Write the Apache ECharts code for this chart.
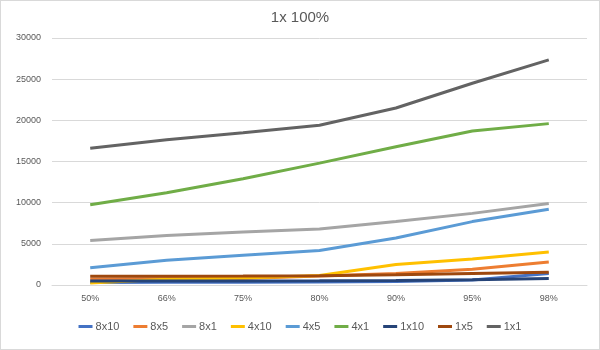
<!DOCTYPE html>
<html><head><meta charset="utf-8">
<script src="https://cdn.jsdelivr.net/npm/echarts@6/dist/echarts.min.js"></script>
<style>html,body{margin:0;padding:0;background:#fff}#c{width:598px;height:348px;border:1px solid #D9D9D9}</style>
</head><body><div id="c"></div>
<script>
const categories = ['50%','66%','75%','80%','90%','95%','98%'];
const s8x10 = [300, 320, 340, 360, 420, 600, 1400];
const s8x5  = [700, 750, 800, 1100, 1400, 1900, 2800];
const s8x1  = [5400, 6000, 6450, 6800, 7700, 8700, 9900];
const s4x10 = [250, 700, 850, 1150, 2500, 3150, 4000];
const s4x5  = [2100, 3000, 3600, 4200, 5700, 7700, 9200];
const s4x1  = [9750, 11200, 12900, 14800, 16800, 18700, 19600];
const s1x10 = [500, 500, 500, 520, 560, 650, 800];
const s1x5  = [1050, 1050, 1080, 1120, 1250, 1400, 1550];
const s1x1  = [16600, 17650, 18500, 19400, 21500, 24500, 27350];
const names = ['8x10','8x5','8x1','4x10','4x5','4x1','1x10','1x5','1x1'];
const values = [s8x10,s8x5,s8x1,s4x10,s4x5,s4x1,s1x10,s1x5,s1x1];
const colors = ['#4472C4','#ED7D31','#A5A5A5','#FFC000','#5B9BD5','#70AD47','#264478','#9E480E','#636363'];
const chart = echarts.init(document.getElementById('c'), null, {renderer:'canvas'});
chart.setOption({
  animation:false,
  color: colors,
  title:{text:'1x 100%', left:'center', top:4, textStyle:{fontFamily:'Liberation Sans, Arial', fontSize:15, fontWeight:'normal', color:'#595959'}},
  grid:{left:51, right:12, top:37, bottom:64},
  legend:{bottom:12, left:'center', itemWidth:14, itemHeight:3, itemGap:14, icon:'rect',
    textStyle:{fontFamily:'Liberation Sans, Arial', fontSize:11, color:'#595959', padding:[0,0,0,-2]}, data:names},
  xAxis:{type:'category', data:categories, boundaryGap:true,
    axisLine:{lineStyle:{color:'#D9D9D9'}}, axisTick:{show:false},
    axisLabel:{fontFamily:'Liberation Sans, Arial', fontSize:9, color:'#595959', margin:9}},
  yAxis:{type:'value', min:0, max:30000, interval:5000,
    axisLine:{show:false}, axisTick:{show:false},
    splitLine:{lineStyle:{color:'#D9D9D9'}},
    axisLabel:{fontFamily:'Liberation Sans, Arial', fontSize:9, color:'#595959', margin:11, formatter:(v)=>String(v)}},
  series: names.map((n,i)=>({name:n, type:'line', data:values[i], symbol:'none', lineStyle:{width:3, color:colors[i]}, itemStyle:{color:colors[i]}}))
});
</script></body></html>
